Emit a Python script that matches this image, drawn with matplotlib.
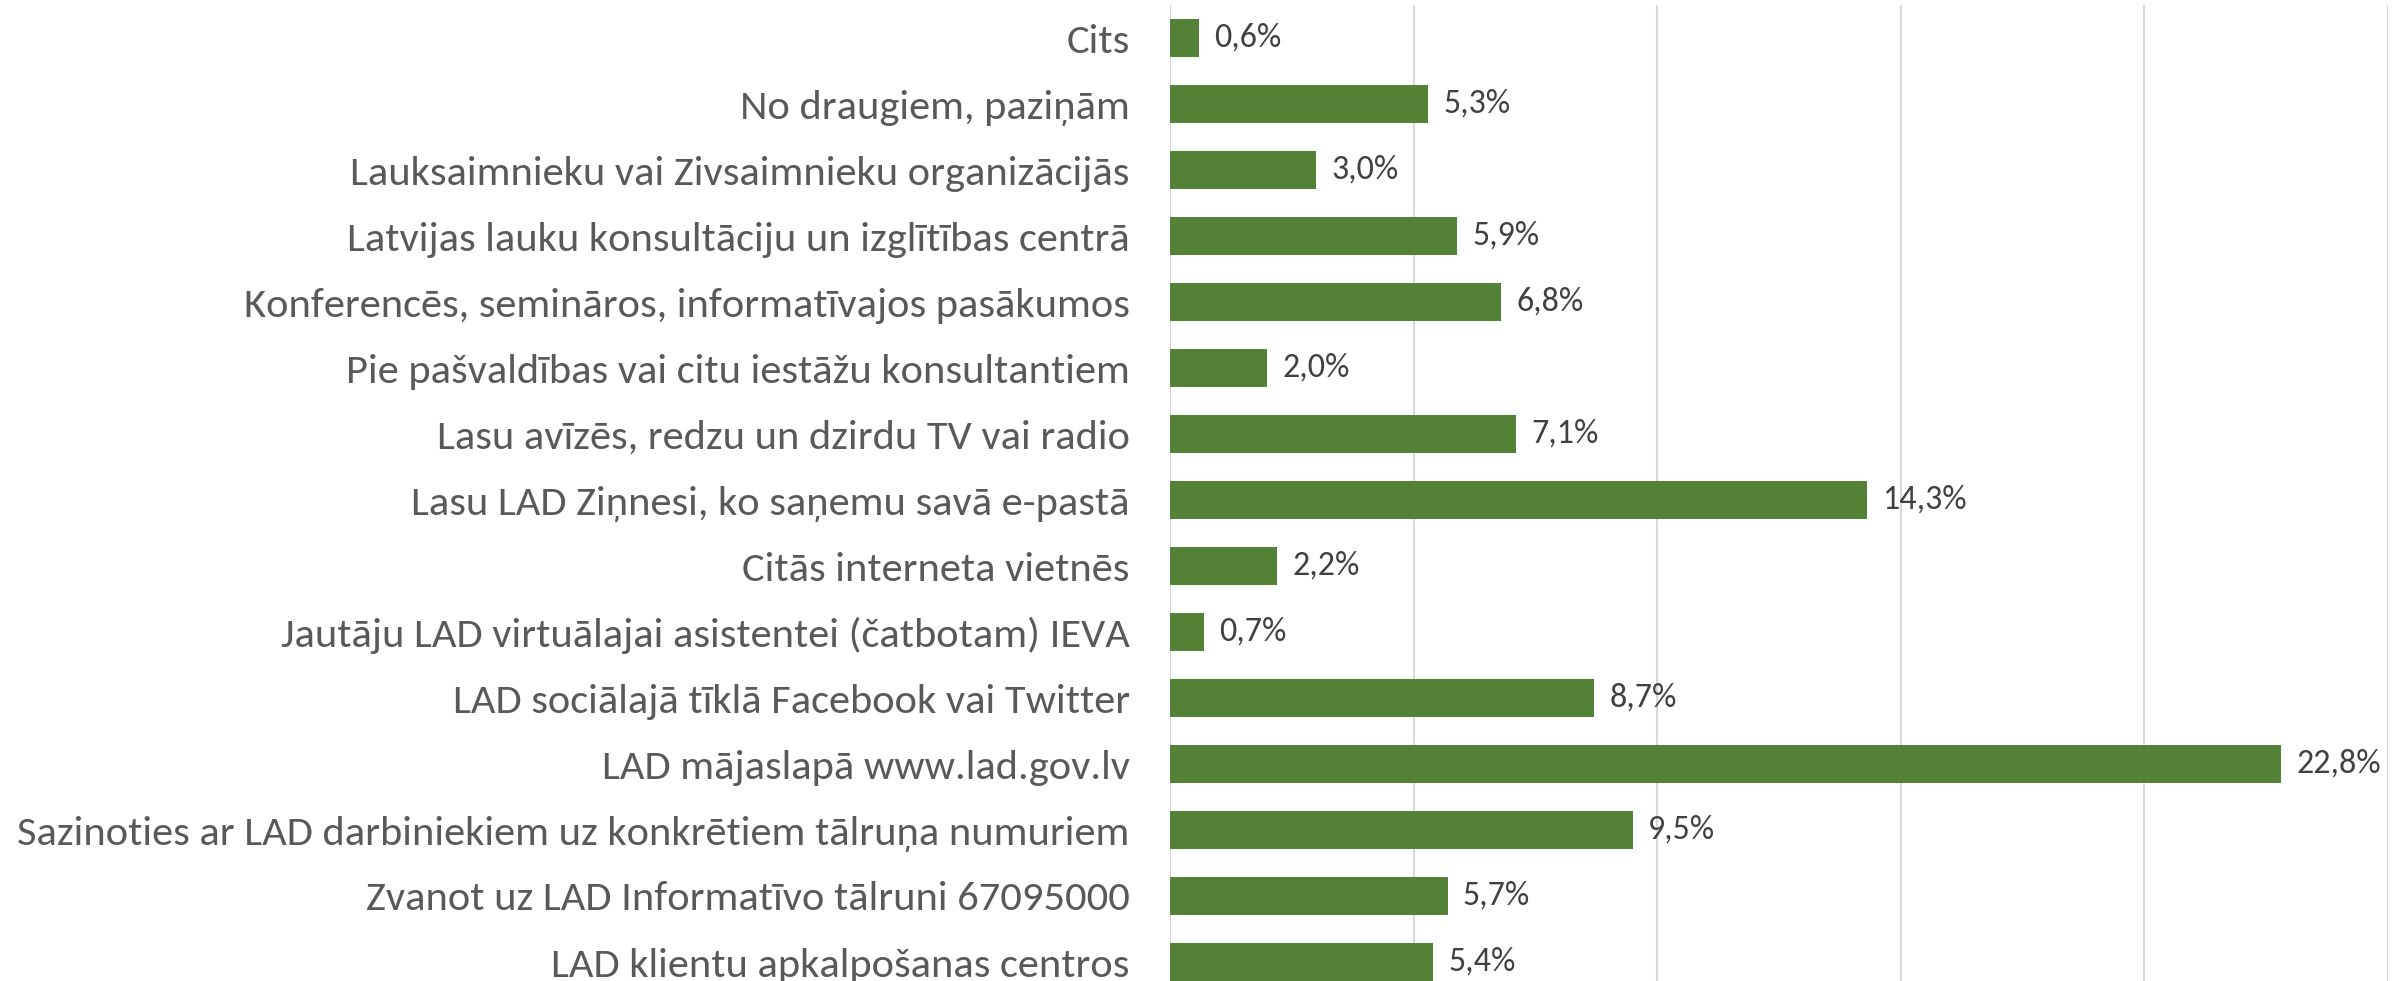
import matplotlib
matplotlib.use("Agg")
import matplotlib.pyplot as plt
from matplotlib import font_manager

# survey answers, top to bottom as in the chart
categories = [
    "Cits",
    "No draugiem, paziņām",
    "Lauksaimnieku vai Zivsaimnieku organizācijās",
    "Latvijas lauku konsultāciju un izglītības centrā",
    "Konferencēs, semināros, informatīvajos pasākumos",
    "Pie pašvaldības vai citu iestāžu konsultantiem",
    "Lasu avīzēs, redzu un dzirdu TV vai radio",
    "Lasu LAD Ziņnesi, ko saņemu savā e-pastā",
    "Citās interneta vietnēs",
    "Jautāju LAD virtuālajai asistentei (čatbotam) IEVA",
    "LAD sociālajā tīklā Facebook vai Twitter",
    "LAD mājaslapā www.lad.gov.lv",
    "Sazinoties ar LAD darbiniekiem uz konkrētiem tālruņa numuriem",
    "Zvanot uz LAD Informatīvo tālruni 67095000",
    "LAD klientu apkalpošanas centros",
]
values = [0.6, 5.3, 3.0, 5.9, 6.8, 2.0, 7.1, 14.3, 2.2, 0.7, 8.7, 22.8, 9.5, 5.7, 5.4]

names = {f.name for f in font_manager.fontManager.ttflist}
family = "Carlito" if "Carlito" in names else "Lato"

fig = plt.figure(figsize=(23.99, 9.81), dpi=100)
ax = fig.add_axes([1170 / 2399, -14 / 981, (2388 - 1170) / 2399, 990 / 981])

pos = list(range(len(categories)))[::-1]
ax.barh(pos, values, height=0.57, color="#538135", zorder=3)

ax.set_xlim(0, 25)
ax.set_ylim(-0.5, len(categories) - 0.5)
ax.set_xticks([0, 5, 10, 15, 20, 25])
ax.xaxis.grid(True, color="#d9d9d9", linewidth=1.5, zorder=0)
ax.tick_params(axis="x", length=0, labelbottom=False)
ax.tick_params(axis="y", length=0, pad=29)
for s in ax.spines.values():
    s.set_visible(False)

ax.set_yticks(pos)
ax.set_yticklabels(categories, family=family, color="#595959")

# fit the widest label to the width seen in the reference
size = 26
for lab in ax.get_yticklabels():
    lab.set_fontsize(size)
fig.canvas.draw()
r = fig.canvas.get_renderer()
w = max(lab.get_window_extent(r).width for lab in ax.get_yticklabels())
size = size * 1115 / w
for lab in ax.get_yticklabels():
    lab.set_fontsize(size)

for p, v in zip(pos, values):
    ax.annotate(f"{v:.1f}%".replace(".", ","), (v, p), xytext=(11, 0),
                textcoords="offset points", va="center", ha="left",
                fontsize=size * 0.8, family=family, color="#404040")

fig.savefig("out.png", dpi=100)
